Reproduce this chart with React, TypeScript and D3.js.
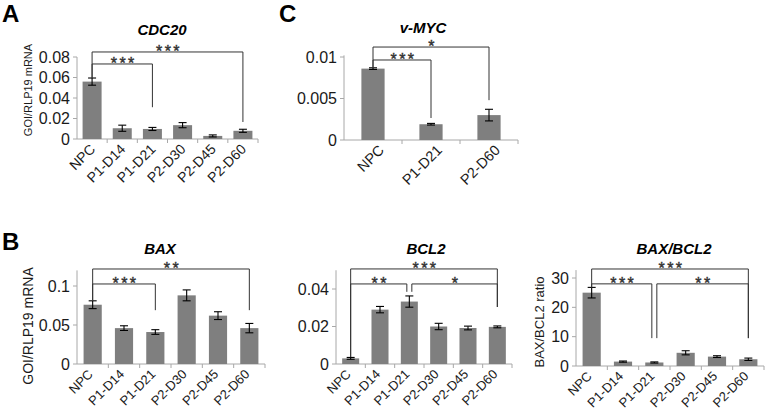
import React from "react";
import * as d3 from "d3";

// ---------- DATA ----------
const categories6 = ["NPC", "P1-D14", "P1-D21", "P2-D30", "P2-D45", "P2-D60"];
const categoriesMyc = ["NPC", "P1-D21", "P2-D60"];

const cdc20Mean = [0.056, 0.0105, 0.0098, 0.0135, 0.003, 0.008];
const cdc20Err = [0.0035, 0.003, 0.0015, 0.0025, 0.001, 0.0015];
const cdc20Ticks = [0, 0.02, 0.04, 0.06, 0.08];
const cdc20TickLabels = ["0", "0.02", "0.04", "0.06", "0.08"];

const mycMean = [0.0086, 0.0019, 0.003];
const mycErr = [0.0001, 0.0001, 0.0007];
const mycTicks = [0, 0.005, 0.01];
const mycTickLabels = ["0", "0.005", "0.01"];

const baxMean = [0.076, 0.046, 0.041, 0.088, 0.062, 0.046];
const baxErr = [0.005, 0.003, 0.003, 0.007, 0.005, 0.006];
const baxTicks = [0, 0.05, 0.1];
const baxTickLabels = ["0", "0.05", "0.1"];

const bcl2Mean = [0.003, 0.029, 0.0333, 0.02, 0.0192, 0.0198];
const bcl2Err = [0.0005, 0.0017, 0.003, 0.0017, 0.001, 0.0005];
const bcl2Ticks = [0, 0.02, 0.04];
const bcl2TickLabels = ["0", "0.02", "0.04"];

const ratioMean = [25, 1.5, 1.2, 4.5, 3.2, 2.3];
const ratioErr = [1.8, 0.2, 0.2, 0.7, 0.3, 0.4];
const ratioTicks = [0, 10, 20, 30];
const ratioTickLabels = ["0", "10", "20", "30"];

type Bracket = { from: number; to: number; level: number; dropFrom: number; dropTo: number; label: string };

const cdc20Brackets: Bracket[] = [
  { from: 0, to: 5, level: 0.0849, dropFrom: 0.0595, dropTo: 0.0166, label: "***" },
  { from: 0, to: 2, level: 0.0732, dropFrom: 0.0595, dropTo: 0.031, label: "***" },
];
const mycBrackets: Bracket[] = [
  { from: 0, to: 2, level: 0.0112, dropFrom: 0.0087, dropTo: 0.0048, label: "*" },
  { from: 0, to: 1, level: 0.00964, dropFrom: 0.0087, dropTo: 0.00265, label: "***" },
];
const baxBrackets: Bracket[] = [
  { from: 0, to: 5, level: 0.1218, dropFrom: 0.081, dropTo: 0.069, label: "**" },
  { from: 0, to: 2, level: 0.1026, dropFrom: 0.081, dropTo: 0.069, label: "***" },
];
const bcl2Brackets: Bracket[] = [
  { from: 0, to: 5, level: 0.0507, dropFrom: 0.0037, dropTo: 0.0304, label: "***" },
  { from: 0, to: 2, level: 0.0427, dropFrom: 0.0037, dropTo: 0.0385, label: "**" },
  { from: 2, to: 5, level: 0.0427, dropFrom: 0.0385, dropTo: 0.0304, label: "*" },
];
const ratioBrackets: Bracket[] = [
  { from: 0, to: 5, level: 33.07, dropFrom: 26.8, dropTo: 9.5, label: "***" },
  { from: 0, to: 2, level: 28, dropFrom: 26.8, dropTo: 9.5, label: "***" },
  { from: 2, to: 5, level: 28, dropFrom: 9.5, dropTo: 9.5, label: "**" },
];

// ---------- STYLE ----------
const FONT = "'Liberation Sans', Arial, Helvetica, sans-serif";
const BAR = "#7f7f7f";
const AXIS = "#a8a8a8";
const INK = "#1a1a1a";
const BRK = "#333333";

type PanelProps = {
  cats: string[];
  mean: number[];
  err: number[];
  ticks: number[];
  tickLabels: string[];
  brackets: Bracket[];
  x0: number;
  x1: number;
  y0: number;
  yRef: number;
  refVal: number;
  axisTop: number;
  barFrac: number;
  labelDx: number;
  labelSize: number;
  title: string;
  titleX: number;
  titleY: number;
  yLabel?: string;
  yLabelX?: number;
  yLabelY?: number;
  yLabelSize?: number;
};

function Panel(p: PanelProps) {
  const x = d3.scaleBand<string>().domain(p.cats).range([p.x0, p.x1]).paddingInner(0).paddingOuter(0);
  const y = d3.scaleLinear().domain([0, p.refVal]).range([p.y0, p.yRef]);
  const bw = x.bandwidth() * p.barFrac;
  const cx = (i: number) => (x(p.cats[i]) as number) + x.bandwidth() / 2;
  const cap = 4;

  const shift = (b: Bracket, side: "from" | "to") => {
    const idx = side === "from" ? b.from : b.to;
    const shared = p.brackets.some(
      (o) => o !== b && Math.abs(o.level - b.level) < 1e-9 && (side === "from" ? o.to === idx : o.from === idx)
    );
    if (!shared) return 0;
    return side === "from" ? 2.5 : -2.5;
  };

  return (
    <g>
      <line x1={p.x0} x2={p.x0} y1={p.y0} y2={y(p.axisTop)} stroke={AXIS} strokeWidth={1} />
      {p.ticks.map((t, i) => (
        <g key={"yt" + i}>
          <line x1={p.x0 - 4} x2={p.x0} y1={y(t)} y2={y(t)} stroke={AXIS} />
          <text x={p.x0 - 7} y={y(t)} dy="0.36em" textAnchor="end" fontSize={16} fontFamily={FONT} fill={INK}>
            {p.tickLabels[i]}
          </text>
        </g>
      ))}
      <line x1={p.x0} x2={p.x1} y1={p.y0} y2={p.y0} stroke={AXIS} strokeWidth={1} />
      {p.cats.map((c, i) => (
        <line key={"xt" + i} x1={(x(c) as number) + x.bandwidth()} x2={(x(c) as number) + x.bandwidth()} y1={p.y0} y2={p.y0 + 4} stroke={AXIS} />
      ))}
      {p.cats.map((c, i) => (
        <rect key={"b" + i} x={cx(i) - bw / 2} y={y(p.mean[i])} width={bw} height={p.y0 - y(p.mean[i])} fill={BAR} />
      ))}
      {p.cats.map((c, i) => {
        const hi = y(p.mean[i] + p.err[i]);
        const lo = y(p.mean[i] - p.err[i]);
        return (
          <g key={"e" + i} stroke="#000" strokeWidth={1.1}>
            <line x1={cx(i)} x2={cx(i)} y1={hi} y2={lo} />
            <line x1={cx(i) - cap} x2={cx(i) + cap} y1={hi} y2={hi} />
            <line x1={cx(i) - cap} x2={cx(i) + cap} y1={lo} y2={lo} />
          </g>
        );
      })}
      {p.cats.map((c, i) => (
        <text
          key={"xl" + i}
          transform={`translate(${cx(i) + p.labelDx},${p.y0 + 11}) rotate(-45)`}
          textAnchor="end"
          fontSize={p.labelSize}
          fontFamily={FONT}
          fill={INK}
        >
          {c}
        </text>
      ))}
      {p.brackets.map((b, i) => {
        const xa = cx(b.from) + shift(b, "from");
        const xb = cx(b.to) + shift(b, "to");
        const ly = y(b.level);
        return (
          <g key={"br" + i}>
            <path d={`M${xa},${y(b.dropFrom)}V${ly}H${xb}V${y(b.dropTo)}`} fill="none" stroke={BRK} strokeWidth={1} />
            <text
              x={(xa + xb) / 2 + 1.5}
              y={ly + 5}
              textAnchor="middle"
              fontSize={16}
              fontFamily={FONT}
              fill={BRK}
              stroke={BRK}
              strokeWidth={0.4}
              letterSpacing={2.5}
            >
              {b.label}
            </text>
          </g>
        );
      })}
      <text x={p.titleX} y={p.titleY} textAnchor="middle" fontSize={15} fontWeight="bold" fontStyle="italic" fontFamily={FONT} fill="#000">
        {p.title}
      </text>
      {p.yLabel && (
        <text
          transform={`translate(${p.yLabelX},${p.yLabelY}) rotate(-90)`}
          textAnchor="middle"
          dy="0.35em"
          fontSize={p.yLabelSize}
          fontFamily={FONT}
          fill={INK}
        >
          {p.yLabel}
        </text>
      )}
    </g>
  );
}

export default function App() {
  return (
    <svg width={765} height={418} style={{ position: "absolute", left: 0, top: 0, background: "#fff" }}>
      <rect width={765} height={418} fill="#fff" />
      <text x={2} y={22} fontSize={24} fontWeight="bold" fontFamily={FONT}>A</text>
      <text x={2} y={250} fontSize={24} fontWeight="bold" fontFamily={FONT}>B</text>
      <text x={279} y={22} fontSize={24} fontWeight="bold" fontFamily={FONT}>C</text>

      <Panel
        cats={categories6} mean={cdc20Mean} err={cdc20Err} ticks={cdc20Ticks} tickLabels={cdc20TickLabels}
        brackets={cdc20Brackets} x0={77} x1={258} y0={139} yRef={57} refVal={0.08} axisTop={0.08}
        barFrac={0.63} labelDx={4} labelSize={14} title="CDC20" titleX={162} titleY={35}
        yLabel="GOI/RLP19 mRNA" yLabelX={28} yLabelY={90} yLabelSize={11}
      />
      <Panel
        cats={categoriesMyc} mean={mycMean} err={mycErr} ticks={mycTicks} tickLabels={mycTickLabels}
        brackets={mycBrackets} x0={344} x1={518} y0={140} yRef={57} refVal={0.01} axisTop={0.0102}
        barFrac={0.4} labelDx={12} labelSize={14.5} title="v-MYC" titleX={423} titleY={33}
      />
      <Panel
        cats={categories6} mean={baxMean} err={baxErr} ticks={baxTicks} tickLabels={baxTickLabels}
        brackets={baxBrackets} x0={77} x1={265} y0={364} yRef={286} refVal={0.1} axisTop={0.12}
        barFrac={0.58} labelDx={1} labelSize={13} title="BAX" titleX={160} titleY={254}
        yLabel="GOI/RLP19 mRNA" yLabelX={28} yLabelY={326} yLabelSize={14}
      />
      <Panel
        cats={categories6} mean={bcl2Mean} err={bcl2Err} ticks={bcl2Ticks} tickLabels={bcl2TickLabels}
        brackets={bcl2Brackets} x0={336} x1={512} y0={364} yRef={289} refVal={0.04} axisTop={0.05}
        barFrac={0.58} labelDx={1} labelSize={13} title="BCL2" titleX={426} titleY={254}
      />
      <Panel
        cats={categories6} mean={ratioMean} err={ratioErr} ticks={ratioTicks} tickLabels={ratioTickLabels}
        brackets={ratioBrackets} x0={576} x1={764} y0={366} yRef={278} refVal={30} axisTop={32.7}
        barFrac={0.58} labelDx={1} labelSize={13} title="BAX/BCL2" titleX={674} titleY={254}
        yLabel="BAX/BCL2 ratio" yLabelX={539} yLabelY={322} yLabelSize={13}
      />
    </svg>
  );
}
